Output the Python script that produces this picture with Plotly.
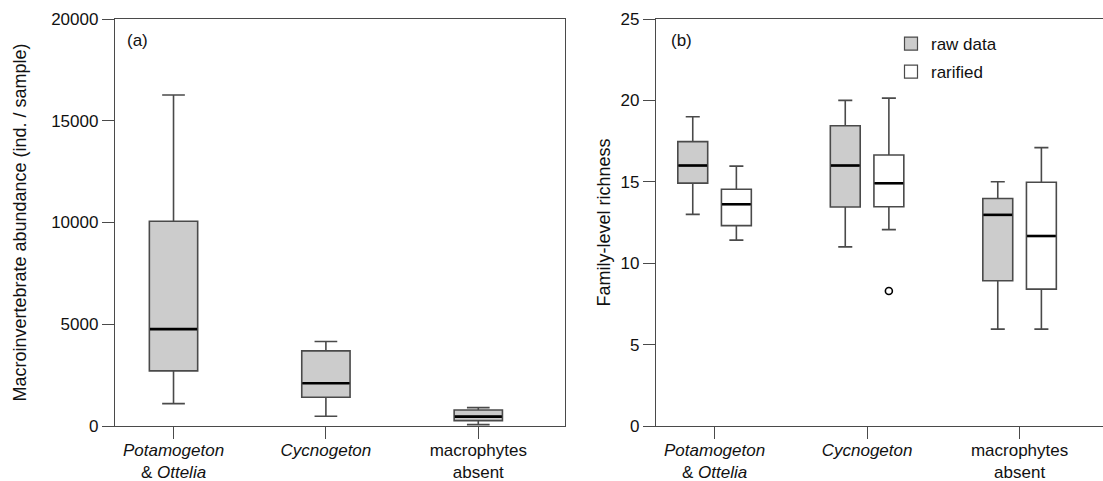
import plotly.graph_objects as go

# ---------------- data ----------------
categories = ["<i>Potamogeton</i><br>& <i>Ottelia</i>", "<i>Cycnogeton</i>", "macrophytes<br>absent"]

# panel (a): macroinvertebrate abundance
abund_low = [1100, 476, 66]
abund_q1 = [2708, 1411, 263]
abund_med = [4759, 2100, 460]
abund_q3 = [10059, 3692, 788]
abund_high = [16262, 4152, 902]

# panel (b): family-level richness, raw data
raw_low = [13.0, 11.0, 5.95]
raw_q1 = [14.92, 13.45, 8.92]
raw_med = [16.0, 16.0, 12.97]
raw_q3 = [17.47, 18.44, 13.97]
raw_high = [19.0, 20.0, 15.0]

# rarified
rar_low = [11.42, 12.06, 5.95]
rar_q1 = [12.31, 13.47, 8.41]
rar_med = [13.62, 14.91, 11.67]
rar_q3 = [14.54, 16.65, 14.97]
rar_high = [15.96, 20.14, 17.1]
rar_outlier_cat = [1]
rar_outlier_val = [8.29]

y1_ticks = [0, 5000, 10000, 15000, 20000]
y1_labels = ["0", "5000", "10000", "15000", "20000"]
y2_ticks = [0, 5, 10, 15, 20, 25]
y2_labels = ["0", "5", "10", "15", "20", "25"]

# ---------------- style ----------------
FONT = "Liberation Sans, Arial, sans-serif"
AX = "#4a4a4a"
BOXLINE = "#4a4a4a"
GRAY = "#cccccc"
WHITE = "#ffffff"

W_A = 0.317
W_B = 0.196
OFF = 0.143

pos = list(range(len(categories)))

fig = go.Figure()

def add_box(xs, q1, med, q3, lo, hi, fill, width, xa, ya):
    fig.add_trace(go.Box(
        x=xs, q1=q1, median=med, q3=q3, lowerfence=lo, upperfence=hi,
        width=width, whiskerwidth=0.47, fillcolor=fill,
        line=dict(color=BOXLINE, width=1.6),
        boxpoints=False, showlegend=False, hoverinfo="skip",
        xaxis=xa, yaxis=ya))
    mx, my = [], []
    for x, m in zip(xs, med):
        mx += [x - width / 2 + 0.004, x + width / 2 - 0.004, None]
        my += [m, m, None]
    fig.add_trace(go.Scatter(x=mx, y=my, mode="lines",
                             line=dict(color="black", width=2.6),
                             showlegend=False, hoverinfo="skip",
                             xaxis=xa, yaxis=ya))

# panel a
add_box(pos, abund_q1, abund_med, abund_q3, abund_low, abund_high, GRAY, W_A, "x", "y")

# panel b
add_box([p - OFF for p in pos], raw_q1, raw_med, raw_q3, raw_low, raw_high, GRAY, W_B, "x2", "y2")
add_box([p + OFF for p in pos], rar_q1, rar_med, rar_q3, rar_low, rar_high, WHITE, W_B, "x2", "y2")
fig.add_trace(go.Scatter(
    x=[c + OFF for c in rar_outlier_cat], y=rar_outlier_val, mode="markers",
    marker=dict(symbol="circle-open", size=7, color="black", line=dict(width=1.6)),
    showlegend=False, hoverinfo="skip", xaxis="x2", yaxis="y2"))

# legend entries
fig.add_trace(go.Scatter(x=[None], y=[None], mode="markers", name="raw data",
                         marker=dict(symbol="square", size=13, color=GRAY,
                                     line=dict(color=BOXLINE, width=1.2)),
                         legendgroup="a", xaxis="x2", yaxis="y2"))
fig.add_trace(go.Scatter(x=[None], y=[None], mode="markers", name="rarified",
                         marker=dict(symbol="square", size=13, color=WHITE,
                                     line=dict(color=BOXLINE, width=1.2)),
                         legendgroup="b", xaxis="x2", yaxis="y2"))

W, H = 1103, 481
ml, mt, mb, mr = 115, 19, 55, 0
pw = W - ml - mr
ph = H - mt - mb

common_x = dict(tickmode="array", tickvals=pos, ticktext=categories,
                showline=True, linecolor=AX, linewidth=1.3, mirror=True,
                ticks="outside", ticklen=12, tickcolor=AX, tickwidth=1.3,
                showgrid=False, zeroline=False, ticklabelstandoff=-4, automargin=False,
                tickfont=dict(size=17, color="#111", family=FONT))
common_y = dict(showline=True, linecolor=AX, linewidth=1.3, tickmode="array",
                ticks="outside", ticklen=12, tickcolor=AX, tickwidth=1.3,
                showgrid=False, zeroline=False, automargin=False,
                tickfont=dict(size=17, color="#111", family=FONT))

fig.update_layout(
    width=W, height=H,
    margin=dict(l=ml, r=mr, t=mt, b=mb),
    paper_bgcolor="white", plot_bgcolor="white",
    font=dict(family=FONT, size=17, color="#111"),
    xaxis=dict(domain=[0, 450 / pw], range=[-0.384, 2.569], **common_x),
    yaxis=dict(range=[0, 20000], tickvals=y1_ticks, ticktext=y1_labels, mirror=True,
               title=dict(text="Macroinvertebrate abundance (ind. / sample)",
                          font=dict(size=18, family=FONT, color="#111"), standoff=19),
               **common_y),
    xaxis2=dict(domain=[(656 - ml) / pw, 1], range=[-0.384, 2.547], anchor="y2", **common_x),
    yaxis2=dict(range=[0, 25], tickvals=y2_ticks, ticktext=y2_labels, anchor="x2", mirror=False,
                title=dict(text="Family-level richness",
                           font=dict(size=18, family=FONT, color="#111"), standoff=5),
                **common_y),
    showlegend=True,
    legend=dict(x=(891 - ml) / pw, y=1 - (26 - mt) / ph, xanchor="left", yanchor="top",
                bgcolor="rgba(0,0,0,0)", font=dict(size=17, family=FONT, color="#111"),
                tracegroupgap=3, itemwidth=30),
    annotations=[
        dict(text="(a)", xref="x domain", yref="y domain", x=0.022, y=0.947,
             xanchor="left", yanchor="middle", showarrow=False,
             font=dict(size=17, family=FONT, color="#111")),
        dict(text="(b)", xref="x2 domain", yref="y2 domain", x=0.029, y=0.947,
             xanchor="left", yanchor="middle", showarrow=False,
             font=dict(size=17, family=FONT, color="#111")),
    ],
)

fig.write_html("out.html", config={"displayModeBar": False},
               post_script="document.body.style.margin='0';document.body.style.overflow='hidden';")
